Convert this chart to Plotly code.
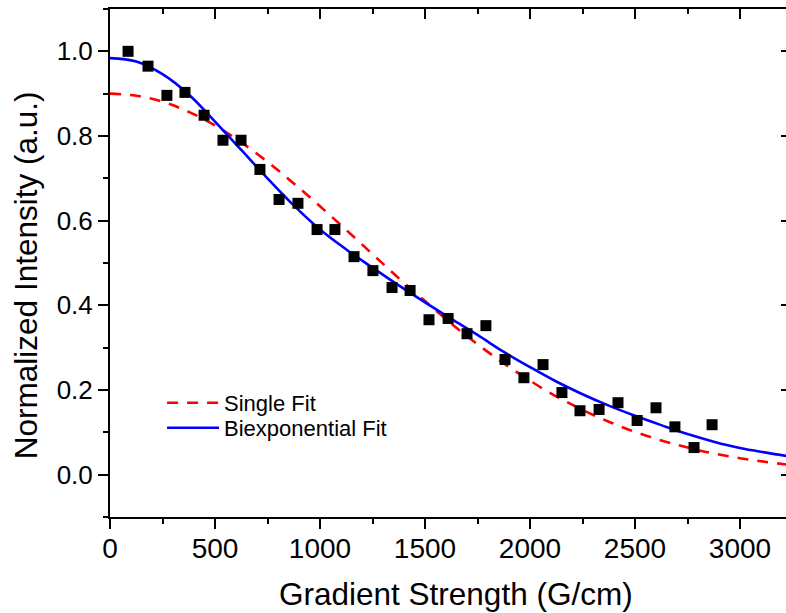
import plotly.graph_objects as go

# Measured data points
gradient = [86, 181, 271, 357, 448, 538, 624, 714, 805, 895, 986, 1071, 1162, 1252,
            1343, 1429, 1519, 1610, 1700, 1790, 1881, 1971, 2062, 2152, 2238, 2329,
            2419, 2510, 2600, 2690, 2781, 2867]
intensity = [1.000, 0.965, 0.896, 0.903, 0.849, 0.790, 0.790, 0.721, 0.650, 0.641,
             0.579, 0.579, 0.515, 0.482, 0.442, 0.435, 0.366, 0.369, 0.333, 0.352,
             0.272, 0.229, 0.260, 0.194, 0.151, 0.154, 0.170, 0.128, 0.158, 0.113,
             0.064, 0.118]

# Fit curves
fit_x = [0, 125, 250, 375, 500, 625, 750, 875, 1000, 1125, 1250, 1375, 1500, 1625,
         1750, 1875, 2000, 2125, 2250, 2375, 2500, 2625, 2750, 2875, 3000, 3125, 3250]
single_fit = [0.900, 0.895, 0.881, 0.857, 0.825, 0.785, 0.739, 0.688, 0.634, 0.578,
              0.521, 0.464, 0.410, 0.357, 0.308, 0.263, 0.222, 0.185, 0.153, 0.125,
              0.101, 0.081, 0.064, 0.050, 0.039, 0.030, 0.022]
biexp_fit = [0.984, 0.976, 0.946, 0.898, 0.834, 0.767, 0.700, 0.636, 0.579, 0.532,
             0.489, 0.447, 0.407, 0.368, 0.330, 0.290, 0.254, 0.220, 0.190, 0.163,
             0.139, 0.117, 0.096, 0.078, 0.063, 0.052, 0.042]

x_ticks = [0, 500, 1000, 1500, 2000, 2500, 3000]
y_ticks = [0.0, 0.2, 0.4, 0.6, 0.8, 1.0]
x_title = "Gradient Strength (G/cm)"
y_title = "Normalized Intensity (a.u.)"

FONT = "Liberation Sans, Arial, sans-serif"

fig = go.Figure()
fig.add_trace(go.Scatter(x=fit_x, y=single_fit, mode="lines", name="Single Fit",
                         legend="legend",
                         line=dict(color="#FF0000", width=2.6, dash="11px,9px", shape="spline")))
fig.add_trace(go.Scatter(x=fit_x, y=biexp_fit, mode="lines", name="Biexponential Fit",
                         legend="legend2",
                         line=dict(color="#0000FF", width=2.6, shape="spline")))
fig.add_trace(go.Scatter(x=gradient, y=intensity, mode="markers", showlegend=False,
                         marker=dict(symbol="square", size=11, color="black")))
# invisible trace to activate the mirrored tick axes
fig.add_trace(go.Scatter(x=[None], y=[None], xaxis="x2", yaxis="y2", showlegend=False,
                         hoverinfo="skip"))

xr = [0, 3219]
yr = [-0.1, 1.1]

leg_common = dict(xanchor="left", yanchor="middle", bgcolor="rgba(0,0,0,0)",
                  font=dict(size=22, family=FONT), itemwidth=52, borderwidth=0)

fig.update_layout(
    width=786, height=613,
    margin=dict(l=110, r=0, t=9, b=96),
    plot_bgcolor="white", paper_bgcolor="white",
    font=dict(family=FONT, color="black"),
    showlegend=True,
    legend=dict(x=0.077, y=0.2244, **leg_common),
    legend2=dict(x=0.077, y=0.1752, **leg_common),
    xaxis=dict(range=xr, tickvals=x_ticks, ticks="outside", ticklen=10, tickwidth=2,
               tickcolor="black", showline=True, linewidth=2, linecolor="black",
               mirror=True, showgrid=False, zeroline=False, ticklabelstandoff=-5,
               tickfont=dict(size=28, family=FONT),
               minor=dict(dtick=250, ticks="outside", ticklen=5, tickwidth=2,
                          tickcolor="black", showgrid=False)),
    yaxis=dict(range=yr, tickvals=y_ticks, tickformat=".1f", ticks="outside", ticklen=10,
               tickwidth=2, tickcolor="black", showline=True, linewidth=2,
               linecolor="black", mirror=False, showgrid=False, zeroline=False,
               tickfont=dict(size=26, family=FONT),
               minor=dict(dtick=0.1, tick0=0, ticks="outside", ticklen=5, tickwidth=2,
                          tickcolor="black", showgrid=False)),
    xaxis2=dict(overlaying="x", side="top", matches="x", range=xr, tickvals=x_ticks,
                ticks="inside", ticklen=10, tickwidth=2, tickcolor="black",
                showticklabels=False, showline=False, showgrid=False, zeroline=False,
                minor=dict(dtick=250, ticks="inside", ticklen=5, tickwidth=2,
                           tickcolor="black", showgrid=False)),
    yaxis2=dict(overlaying="y", side="right", matches="y", range=yr, tickvals=y_ticks,
                ticks="inside", ticklen=5, tickwidth=2, tickcolor="black",
                showticklabels=False, showline=False, showgrid=False, zeroline=False),
    annotations=[
        dict(text=x_title, xref="paper", yref="paper", x=0.5118, y=-0.1516,
             xanchor="center", yanchor="middle", showarrow=False,
             font=dict(size=31.5, family=FONT, color="black")),
        dict(text=y_title, xref="paper", yref="paper", x=-0.1243, y=0.476,
             xanchor="center", yanchor="middle", showarrow=False, textangle=-90,
             font=dict(size=31.5, family=FONT, color="black")),
    ],
)

fig.write_html("out.html")
